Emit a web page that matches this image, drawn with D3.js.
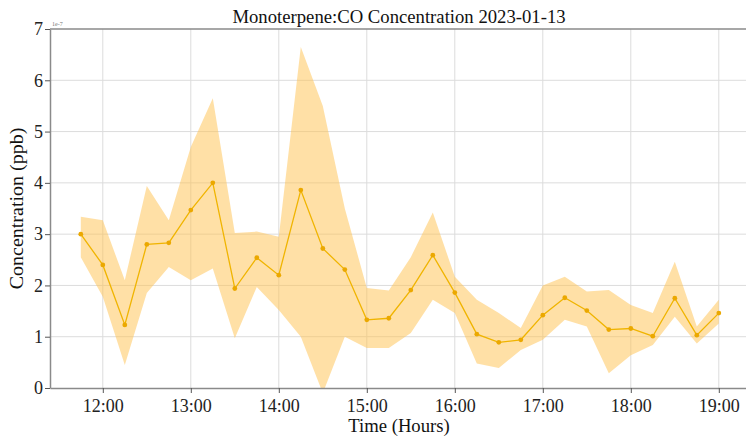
<!DOCTYPE html>
<html><head><meta charset="utf-8">
<script src="https://cdn.jsdelivr.net/npm/d3@7"></script>
<style>body{margin:0;background:#fff}svg{display:block}</style>
</head><body>
<svg id="c" width="746" height="440"></svg>
<script>
// values are in units of 1e-7 ppb
const times = ["11:45","12:00","12:15","12:30","12:45","13:00","13:15","13:30","13:45","14:00",
  "14:15","14:30","14:45","15:00","15:15","15:30","15:45","16:00","16:15","16:30",
  "16:45","17:00","17:15","17:30","17:45","18:00","18:15","18:30","18:45","19:00"];
const meanValues = [3.00,2.40,1.23,2.80,2.83,3.47,4.00,1.94,2.54,2.20,
  3.86,2.72,2.31,1.33,1.36,1.91,2.59,1.86,1.05,0.89,
  0.94,1.42,1.76,1.51,1.14,1.16,1.01,1.75,1.03,1.46];
const upperValues = [3.34,3.27,2.10,3.94,3.27,4.70,5.65,3.02,3.05,2.95,
  6.65,5.50,3.50,1.95,1.90,2.55,3.42,2.17,1.72,1.46,
  1.17,2.00,2.17,1.88,1.91,1.62,1.46,2.46,1.20,1.72];
const lowerValues = [2.55,1.78,0.45,1.85,2.36,2.10,2.33,0.97,1.97,1.52,
  1.00,-0.10,1.00,0.78,0.78,1.07,1.72,1.46,0.48,0.39,
  0.74,0.94,1.33,1.20,0.29,0.64,0.84,1.39,0.87,1.26];
const xTickLabels = ["12:00","13:00","14:00","15:00","16:00","17:00","18:00","19:00"];
const yTickLabels = [0,1,2,3,4,5,6,7];

const toH = s => { const [h,m] = s.split(":").map(Number); return h + m/60; };
const data = times.map((t,i)=>({x:toH(t), m:meanValues[i], lo:lowerValues[i], hi:upperValues[i]}));

const svg = d3.select("#c");
const L=50, R=746, T=29, B=388;
const x = d3.scaleLinear().domain([11.4, 19.309]).range([L,R]);
const y = d3.scaleLinear().domain([0,7]).range([B,T]);
const font = "'Liberation Serif','Times New Roman',serif";

svg.append("defs").append("clipPath").attr("id","clip")
  .append("rect").attr("x",L).attr("y",T).attr("width",R-L).attr("height",B-T);

// grid
const g = svg.append("g");
g.selectAll(".vg").data(xTickLabels).enter().append("line")
  .attr("x1",d=>x(toH(d))).attr("x2",d=>x(toH(d))).attr("y1",T).attr("y2",B)
  .attr("stroke","#dcdcdc").attr("stroke-width",1);
g.selectAll(".hg").data(yTickLabels.filter(v=>v>0&&v<7)).enter().append("line")
  .attr("x1",L).attr("x2",R).attr("y1",d=>y(d)).attr("y2",d=>y(d))
  .attr("stroke","#dcdcdc").attr("stroke-width",1);

// band
const area = d3.area().x(d=>x(d.x)).y0(d=>y(d.lo)).y1(d=>y(d.hi));
svg.append("path").datum(data).attr("d",area).attr("clip-path","url(#clip)")
  .attr("fill","#FFC14D").attr("fill-opacity",0.5);

// line
const line = d3.line().x(d=>x(d.x)).y(d=>y(d.m));
svg.append("path").datum(data).attr("d",line).attr("fill","none")
  .attr("stroke","#F0B400").attr("stroke-width",1.3);
svg.selectAll(".pt").data(data).enter().append("circle")
  .attr("cx",d=>x(d.x)).attr("cy",d=>y(d.m)).attr("r",2.4).attr("fill","#EBA800");

// axes
const xAxis = d3.axisBottom(x).tickValues(xTickLabels.map(toH))
  .tickFormat((d,i)=>xTickLabels[i]).tickSize(5).tickSizeOuter(0);
const yAxis = d3.axisLeft(y).tickValues(yTickLabels).tickFormat(d3.format("d")).tickSize(5).tickSizeOuter(0);
const gx = svg.append("g").attr("transform",`translate(0,${B})`).call(xAxis);
const gy = svg.append("g").attr("transform",`translate(${L},0)`).call(yAxis);
[gx,gy].forEach(a=>{
  a.attr("font-family",null).attr("font-size",null);
  a.select(".domain").attr("stroke","#8a8a8a").attr("stroke-width",1.5);
  a.selectAll(".tick line").attr("stroke","#555");
  a.selectAll(".tick text").style("font-family",font).style("font-size","18px").attr("fill","#222");
});
gx.selectAll(".tick text").attr("dy","0.9em");
gy.selectAll(".tick text").attr("x",-7);
// top border
svg.append("line").attr("x1",L).attr("x2",R).attr("y1",T).attr("y2",T)
  .attr("stroke","#8a8a8a").attr("stroke-width",1.5);

// texts
svg.append("text").attr("x",(L+R)/2+1).attr("y",23).attr("text-anchor","middle")
  .style("font-family",font).style("font-size","18.7px").attr("fill","#111")
  .text("Monoterpene:CO Concentration 2023-01-13");
svg.append("text").attr("x",(L+R)/2+1).attr("y",432).attr("text-anchor","middle")
  .style("font-family",font).style("font-size","18.7px").attr("fill","#111").text("Time (Hours)");
svg.append("text").attr("transform",`translate(23,${(T+B)/2}) rotate(-90) scale(1.07,1)`).attr("text-anchor","middle")
  .style("font-family",font).style("font-size","18.7px").attr("fill","#111").text("Concentration (ppb)");
svg.append("text").attr("x",L+2).attr("y",T-3).style("font-family",font).style("font-size","6px")
  .attr("fill","#777").text("1e-7");
</script>
</body></html>
